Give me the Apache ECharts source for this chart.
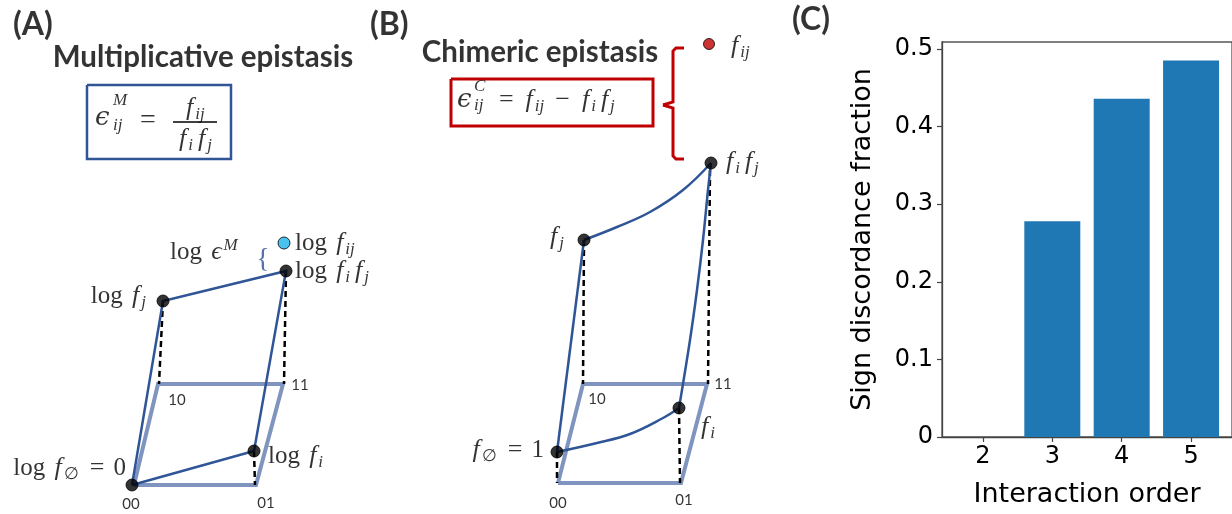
<!DOCTYPE html>
<html><head><meta charset="utf-8">
<script src="https://cdn.jsdelivr.net/npm/echarts@6/dist/echarts.min.js"></script>
<style>html,body{margin:0;padding:0;background:#fff}#c{width:1232px;height:514px}</style>
</head><body><div id="c"></div>
<script>
// ---------- Panel C data ----------
const orders = [2, 3, 4, 5];
const fractions = [0, 0.278, 0.436, 0.485];
const yTicks = [0, 0.1, 0.2, 0.3, 0.4, 0.5];

// ---------- Panel A diagram (diagram units = page pixels) ----------
const A_base = [[134,485],[256,485],[283,384],[158,384],[134,485]];
const A_edges = [[132,485],[163,301],[286,271],[254,451],[132,485]];
const A_dashes = [[[163,301],[159,384]],[[286,271],[284,384]],[[254,451],[255,485]]];
const A_nodes = [[132,485],[254,451],[163,301],[286,271]];
const A_fij = [[284,243]];
const A_box = [[87,85],[231,85],[231,159],[87,159],[87,85]];
const A_fracBar = [[173,122],[217,122]];

// ---------- Panel B diagram ----------
const B_base = [[558,483],[681,483],[707,384],[583,384],[558,483]];
const B_straight = [[557,452],[584,240]];
const B_curve0i = [[557,452],[597,443],[630,434],[663,418],[679,408]];
const B_curvejij = [[584,240],[617,227],[650,212],[683,190],[711,163]];
const B_curveiij = [[679,408],[690,340],[697,290],[703,240],[708,190],[711,163]];
const B_dashes = [[[584,240],[583,384]],[[710,170],[708,384]],[[679,408],[680,483]],[[557,452],[557,483]]];
const B_nodes = [[557,452],[679,408],[584,240],[711,163]];
const B_fij = [[709,44]];
const B_box = [[451,79],[653,79],[653,126],[451,126],[451,79]];
const B_brace = [[[684,48],[676,48],[673,51],[673,102],[663,105]],[[663,105],[673,108],[673,156],[676,159],[684,159]]];

// ---------- Texts: [x, y, rich text, align] ----------
const texts = [
  [13, 25, '{pl|(A)}', 'left'],
  [370, 25, '{pl|(B)}', 'left'],
  [792, 20, '{pl|(C)}', 'left'],
  [203, 58, '{t|Multiplicative epistasis}', 'center'],
  [540, 53, '{t|Chimeric epistasis}', 'center'],
  // formula A
  [95, 118, '{e|ϵ}', 'left'],
  [113, 101, '{ss|M}', 'left'],
  [113, 126, '{ss|ij}', 'left'],
  [140, 121, '{op2|=}', 'left'],
  [195, 108, '{i|f}{s|ij}', 'center'],
  [195, 139, '{i|f}{s|i}{i|f}{s|j}', 'center'],
  // formula B
  [457, 100, '{e|ϵ}', 'left'],
  [474, 87, '{ss|C}', 'left'],
  [474, 106, '{ss|ij}', 'left'],
  [490, 100, '{op|=}{i|f}{s|ij}{op|−}{i|f}{s|i}{i|f}{s|j}', 'left'],
  // diagram A labels
  [148, 296, '{n|log }{i|f}{s|j}', 'right'],
  [170, 252, '{n|log }{i|ϵ}{p|M}', 'left'],
  [263, 260, '{br|{}', 'center'],
  [295, 243, '{n|log }{i|f}{s|ij}', 'left'],
  [295, 271, '{n|log }{i|f}{s|i}{i|f}{s|j}', 'left'],
  [268, 456, '{n|log }{i|f}{s|i}', 'left'],
  [126, 468, '{n|log }{i|f}{sn|∅}{op|=}{n|0}', 'right'],
  [131, 504, '{c|00}', 'center'],
  [266, 503, '{c|01}', 'center'],
  [177, 400, '{c|10}', 'center'],
  [300, 385, '{c|11}', 'center'],
  // diagram B labels
  [728, 46, '{i|f}{s|ij}', 'left'],
  [723, 162, '{i|f}{s|i}{i|f}{s|j}', 'left'],
  [566, 237, '{i|f}{s|j}', 'right'],
  [544, 450, '{i|f}{sn|∅}{op|=}{n|1}', 'right'],
  [698, 427, '{i|f}{s|i}', 'left'],
  [558, 503, '{c|00}', 'center'],
  [684, 500, '{c|01}', 'center'],
  [597, 399, '{c|10}', 'center'],
  [723, 384, '{c|11}', 'center']
];

const SERIF = 'Liberation Serif';
const RICH = {
  n:   {fontFamily: SERIF, fontSize: 25, lineHeight: 30, color: '#000'},
  i:   {fontFamily: SERIF, fontSize: 26, fontStyle: 'italic', lineHeight: 30, color: '#000', padding: [0, 2, 0, 3]},
  e:   {fontFamily: 'DejaVu Serif', fontSize: 26, fontStyle: 'italic', lineHeight: 30, color: '#000'},
  s:   {fontFamily: SERIF, fontSize: 17, fontStyle: 'italic', lineHeight: 18, verticalAlign: 'bottom', color: '#000', padding: [0, 2, 0, 0]},
  sn:  {fontFamily: SERIF, fontSize: 17, lineHeight: 18, verticalAlign: 'bottom', color: '#000', padding: [0, 2, 0, 0]},
  p:   {fontFamily: SERIF, fontSize: 17, fontStyle: 'italic', lineHeight: 15, verticalAlign: 'top', color: '#000'},
  ss:  {fontFamily: SERIF, fontSize: 17, fontStyle: 'italic', lineHeight: 20, color: '#000'},
  op:  {fontFamily: SERIF, fontSize: 26, lineHeight: 30, color: '#000', padding: [0, 9, 0, 9]},
  op2: {fontFamily: SERIF, fontSize: 28, lineHeight: 30, color: '#000'},
  br:  {fontFamily: SERIF, fontSize: 28, lineHeight: 28, color: '#2a4f95'},
  c:   {fontFamily: 'Lato', fontSize: 15, lineHeight: 16, color: '#000'},
  t:   {fontFamily: 'Lato', fontSize: 29.5, fontWeight: 'bold', lineHeight: 34, color: '#000'},
  pl:  {fontFamily: 'Lato', fontSize: 32, fontWeight: 'bold', lineHeight: 36, color: '#000'}
};

const DARK = '#2f5597', LIGHT = '#7f95bf';
const PIX = {xAxisIndex: 1, yAxisIndex: 1};

function lines(coordsList, style, z) {
  return Object.assign({type: 'lines', coordinateSystem: 'cartesian2d', polyline: true, silent: true,
    z: z, lineStyle: Object.assign({opacity: 1}, style),
    data: coordsList.map(c => ({coords: c}))}, PIX);
}
function curve(pts, z) {
  return Object.assign({type: 'line', data: pts, smooth: 0.4, showSymbol: false, silent: true, z: z,
    lineStyle: {color: DARK, width: 2.5}}, PIX);
}
function dots(pts, color, size, z) {
  return Object.assign({type: 'scatter', data: pts, symbolSize: size, silent: true, z: z,
    itemStyle: {color: color, borderColor: '#000', borderWidth: 1}}, PIX);
}

const dashStyle = {color: '#000', width: 2.5, type: [6, 4]};

const option = {
  animation: false,
  grid: [
    {left: 942, top: 42, width: 292, height: 395, show: true, borderColor: '#555', borderWidth: 1.3},
    {left: 0, top: 0, width: 1232, height: 514}
  ],
  xAxis: [
    {type: 'value', gridIndex: 0, min: 1.41, max: 5.59,
     axisLine: {show: true, lineStyle: {color: '#444', width: 1.3}},
     axisTick: {show: true, customValues: orders, length: 5, lineStyle: {color: '#444', width: 1.2}},
     axisLabel: {customValues: orders, fontFamily: 'DejaVu Sans', fontSize: 24, color: '#000', margin: 8},
     splitLine: {show: false},
     name: 'Interaction order', nameLocation: 'middle', nameGap: 44,
     nameTextStyle: {fontFamily: 'DejaVu Sans', fontSize: 27, color: '#000'}},
    {type: 'value', gridIndex: 1, min: 0, max: 1232, show: false}
  ],
  yAxis: [
    {type: 'value', gridIndex: 0, min: 0, max: 0.509,
     axisLine: {show: true, lineStyle: {color: '#444', width: 1.3}},
     axisTick: {show: true, customValues: yTicks, length: 5, lineStyle: {color: '#444', width: 1.2}},
     axisLabel: {customValues: yTicks, fontFamily: 'DejaVu Sans', fontSize: 24, color: '#000', margin: 9,
       formatter: v => (v === 0 ? '0' : v.toFixed(1))},
     splitLine: {show: false},
     name: 'Sign discordance fraction', nameLocation: 'middle', nameGap: 66,
     nameTextStyle: {fontFamily: 'DejaVu Sans', fontSize: 27, color: '#000'}},
    {type: 'value', gridIndex: 1, min: 0, max: 514, inverse: true, show: false}
  ],
  series: [
    {type: 'bar', xAxisIndex: 0, yAxisIndex: 0, barWidth: 56,
     data: orders.map((o, k) => [o, fractions[k]]), itemStyle: {color: '#1f77b4'}, silent: true},
    // panel A
    lines([A_base], {color: LIGHT, width: 4}, 2),
    lines(A_dashes, dashStyle, 3),
    lines([A_edges], {color: DARK, width: 2.5}, 4),
    dots(A_nodes, '#000', 12, 6),
    dots(A_fij, '#1cb4ea', 12, 6),
    lines([A_box], {color: DARK, width: 2.5}, 4),
    lines([A_fracBar], {color: '#000', width: 1.3}, 4),
    // panel B
    lines([B_base], {color: LIGHT, width: 4}, 2),
    lines(B_dashes, dashStyle, 3),
    lines([B_straight], {color: DARK, width: 2.5}, 4),
    curve(B_curve0i, 4), curve(B_curvejij, 4), curve(B_curveiij, 4),
    dots(B_nodes, '#000', 12, 6),
    dots(B_fij, '#c00000', 11, 6),
    lines([B_box], {color: '#c00000', width: 3}, 4),
    lines(B_brace, {color: '#c00000', width: 3}, 4),
    // texts
    Object.assign({type: 'scatter', symbolSize: 0.1, itemStyle: {color: 'rgba(0,0,0,0)'}, silent: true, z: 10,
      label: {show: true, position: [0, 0], verticalAlign: 'middle', color: '#000',
        formatter: p => texts[p.dataIndex][2], rich: RICH},
      data: texts.map(t => ({value: [t[0], t[1]], label: {align: t[3]}}))}, PIX)
  ]
};

const chart = echarts.init(document.getElementById('c'), null, {renderer: 'canvas'});
chart.setOption(option);
</script>
</body></html>
